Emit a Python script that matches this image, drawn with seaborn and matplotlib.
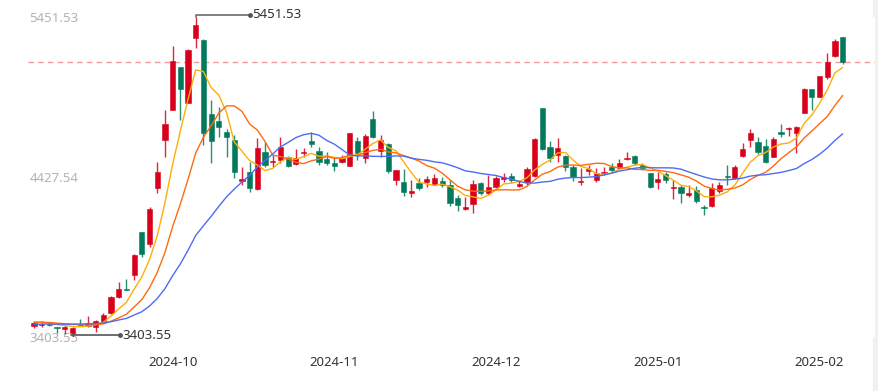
import numpy as np
import pandas as pd
import matplotlib
matplotlib.use("Agg")
import matplotlib.pyplot as plt
from matplotlib.patches import Rectangle
import seaborn as sns

# closes before the first visible candle, only used to seed the moving averages
warmup_close = [3452, 3460, 3471, 3465, 3458, 3470, 3478, 3462, 3474, 3480,
                3490, 3502, 3495, 3504, 3494, 3502, 3496, 3505, 3491]

opens = [
    3472.0, 3480.3, 3482.0, 3461.1, 3454.7, 3429.1, 3482.9, 3472.0, 3467.5, 3499.5,
    3553.3, 3659.5, 3708.8, 3798.4, 4073.6, 3994.9, 4353.3, 4662.4, 4854.4, 5127.7,
    4897.3, 5313.3, 5302.4, 4826.9, 4784.0, 4711.7, 4662.4, 4402.0, 4455.7, 4348.8,
    4587.5, 4521.6, 4534.4, 4553.6, 4508.8, 4577.3, 4657.9, 4592.0, 4538.9, 4517.1,
    4523.5, 4496.0, 4657.9, 4545.3, 4796.8, 4593.9, 4636.8, 4406.4, 4395.5, 4325.1,
    4385.3, 4395.5, 4380.8, 4402.0, 4374.4, 4289.3, 4218.9, 4252.8, 4389.1, 4321.3,
    4363.5, 4414.7, 4433.9, 4368.0, 4395.5, 4432.0, 4865.3, 4619.5, 4566.4, 4560.0,
    4487.7, 4391.7, 4466.0, 4406.4, 4449.3, 4491.5, 4485.1, 4538.9, 4560.0, 4502.4,
    4449.3, 4395.5, 4444.8, 4353.3, 4359.7, 4310.4, 4342.4, 4235.5, 4240.0, 4337.9,
    4432.0, 4417.3, 4560.0, 4662.4, 4651.5, 4624.0, 4555.5, 4715.5, 4730.9, 4709.1,
    4837.1, 4986.9, 4939.5, 5063.7, 5200.0, 5319.7]

closes = [
    3491.2, 3488.0, 3476.0, 3457.3, 3463.7, 3461.1, 3478.4, 3493.1, 3504.0, 3542.4,
    3659.5, 3708.8, 3704.3, 3924.5, 3932.8, 4218.9, 4459.5, 4762.9, 5168.0, 4988.8,
    5238.4, 5398.4, 4709.1, 4656.0, 4747.5, 4679.7, 4459.5, 4410.9, 4353.3, 4609.3,
    4502.4, 4530.0, 4619.5, 4496.0, 4545.3, 4587.5, 4636.8, 4523.5, 4513.3, 4496.0,
    4545.3, 4705.3, 4581.1, 4688.0, 4679.7, 4662.4, 4465.9, 4470.4, 4331.5, 4337.9,
    4353.3, 4410.9, 4421.1, 4374.4, 4257.3, 4246.4, 4235.5, 4380.8, 4321.3, 4363.5,
    4417.3, 4423.7, 4406.4, 4378.9, 4474.9, 4666.9, 4602.9, 4545.3, 4609.3, 4487.7,
    4423.7, 4402.0, 4474.9, 4449.3, 4459.5, 4470.4, 4517.1, 4547.2, 4513.3, 4481.3,
    4363.5, 4410.9, 4406.4, 4363.5, 4321.3, 4321.3, 4272.0, 4225.3, 4353.3, 4374.4,
    4423.7, 4491.5, 4602.9, 4705.3, 4587.5, 4523.5, 4666.9, 4700.8, 4737.3, 4747.5,
    4988.8, 4939.5, 5072.0, 5163.5, 5297.9, 5160.0]

highs = [
    3497.6, 3504.0, 3490.0, 3463.7, 3478.4, 3467.5, 3514.9, 3536.0, 3510.4, 3553.3,
    3664.0, 3755.5, 3770.9, 3930.9, 4073.6, 4235.5, 4523.5, 4854.4, 5264.0, 5127.7,
    5244.8, 5451.53, 5306.9, 4918.4, 4871.7, 4732.8, 4694.4, 4491.5, 4523.5, 4673.3,
    4651.5, 4566.4, 4683.5, 4560.0, 4602.9, 4609.3, 4711.7, 4619.5, 4587.5, 4545.3,
    4566.4, 4705.3, 4683.5, 4700.8, 4849.9, 4694.4, 4645.1, 4470.4, 4474.9, 4406.4,
    4417.3, 4432.0, 4444.8, 4423.7, 4406.4, 4310.4, 4299.5, 4406.4, 4395.5, 4438.4,
    4432.0, 4449.3, 4453.1, 4406.4, 4491.5, 4677.1, 4865.3, 4658.1, 4673.3, 4566.4,
    4502.4, 4483.2, 4502.4, 4481.3, 4491.5, 4513.3, 4538.9, 4587.5, 4566.4, 4513.3,
    4453.1, 4459.5, 4459.5, 4406.4, 4374.4, 4374.4, 4368.0, 4246.4, 4389.1, 4395.5,
    4502.4, 4502.4, 4645.1, 4730.9, 4683.5, 4666.9, 4683.5, 4764.8, 4747.5, 4752.0,
    4993.3, 4986.9, 5072.0, 5221.1, 5306.9, 5323.5]

lows = [
    3459.2, 3467.5, 3470.0, 3427.2, 3420.0, 3403.55, 3476.5, 3467.5, 3435.5, 3493.1,
    3548.8, 3649.3, 3702.4, 3766.4, 3915.5, 3979.5, 4321.3, 4555.5, 4854.4, 4790.4,
    4897.3, 5249.3, 4630.4, 4513.3, 4683.5, 4555.5, 4417.3, 4374.4, 4331.5, 4342.4,
    4491.5, 4491.5, 4513.3, 4487.7, 4502.4, 4555.5, 4615.7, 4502.4, 4502.4, 4465.9,
    4517.1, 4496.0, 4534.4, 4517.1, 4673.3, 4555.5, 4453.1, 4374.4, 4304.0, 4299.5,
    4342.4, 4363.5, 4374.4, 4363.5, 4240.0, 4209.9, 4214.4, 4193.3, 4310.4, 4310.4,
    4353.3, 4395.5, 4395.5, 4359.7, 4374.4, 4423.7, 4598.4, 4523.5, 4523.5, 4465.9,
    4402.0, 4374.4, 4438.4, 4395.5, 4438.4, 4459.5, 4481.3, 4534.4, 4502.4, 4470.4,
    4353.3, 4346.9, 4389.1, 4282.9, 4261.1, 4299.5, 4261.1, 4182.4, 4235.5, 4325.1,
    4374.4, 4410.9, 4555.5, 4619.5, 4572.8, 4513.3, 4551.7, 4679.7, 4688.0, 4581.1,
    4833.3, 4854.4, 4935.7, 5050.9, 5195.5, 5146.9]

tick_labels = ["2024-10", "2024-11", "2024-12", "2025-01", "2025-02"]
tick_index = [18, 39, 60, 81, 102]

ma_windows = [5, 10, 20]
ma_colors = ["#ffad0a", "#ff6a10", "#4d6cf5"]
UP = "#d9001b"
DOWN = "#047a5c"

sns.set_style("white")
plt.rcParams["font.family"] = ["Noto Sans", "DejaVu Sans"]

df = pd.DataFrame({"open": opens, "high": highs, "low": lows, "close": closes})
df["idx"] = np.arange(len(df))
n = len(df)

# moving averages, seeded with the warm-up closes
full_close = pd.Series(warmup_close + closes)
ma_frames = []
for w in ma_windows:
    ma = full_close.rolling(w).mean().iloc[len(warmup_close):].to_numpy()
    ma_frames.append(pd.DataFrame({"idx": df["idx"], "value": ma, "ma": f"MA{w}"}))
ma_long = pd.concat(ma_frames, ignore_index=True)

fig = plt.figure(figsize=(8.79, 3.91), dpi=100)
ax = fig.add_axes([28 / 879, (391 - 336.7) / 391, (875 - 28) / 879, 320 / 391])

up = df["close"] >= df["open"]
colors = np.where(up, UP, DOWN)

ax.vlines(df["idx"], df["low"], df["high"], colors=colors, linewidth=1.0, alpha=0.85, zorder=2)
body_bottom = np.minimum(df["open"], df["close"])
body_height = np.maximum(np.abs(df["close"] - df["open"]), 7)
ax.bar(df["idx"], body_height, bottom=body_bottom, width=0.68, color=colors,
       edgecolor=colors, linewidth=0.4, zorder=3)

sns.lineplot(data=ma_long, x="idx", y="value", hue="ma", palette=ma_colors,
             linewidth=1.0, legend=False, ax=ax, zorder=4)

# last close reference line
ax.axhline(closes[-1], color="#f29a9a", linewidth=1, linestyle=(0, (4, 3)), zorder=1)

ymin, ymax = min(lows), max(highs)
ax.set_ylim(ymin, ymax)
ax.set_xlim(-0.78, n - 1 + 4.2)

# max / min markers
hi_i = int(np.argmax(highs))
lo_i = int(np.argmin(lows))
span = ymax - ymin
hy = ymax + span * 0.0055
ax.plot([hi_i, hi_i, hi_i + 7.0], [ymax, hy, hy], color="#6b6b6b", lw=1.2,
        clip_on=False, zorder=5)
ax.plot([hi_i + 7.0], [hy], "o", color="#555555", ms=2.5, clip_on=False, zorder=5)
ax.text(hi_i + 7.35, hy, f"{ymax:.2f}", color="#333333", fontsize=9.5,
        va="center", ha="left", clip_on=False)
ly = ymin + span * 0.005
ax.plot([lo_i - 0.2, lo_i + 6.2], [ly, ly], color="#555555", lw=1.2, clip_on=False, zorder=5)
ax.plot([lo_i + 6.2], [ly], "o", color="#555555", ms=2.5, clip_on=False, zorder=5)
ax.text(lo_i + 6.5, ly, f"{ymin:.2f}", color="#333333", fontsize=9.5,
        va="center", ha="left", clip_on=False)

# axes styling
yt = [ymin, (ymin + ymax) / 2, ymax]
ax.set_yticks(yt)
ax.set_yticklabels([f"{v:.2f}" for v in yt], color="#b3b3b3", fontsize=9.5)
for lab in ax.get_yticklabels():
    lab.set_horizontalalignment("left")
ax.tick_params(axis="y", length=0, pad=-1)
ax.set_xticks(tick_index)
ax.set_xticklabels(tick_labels, color="#333333", fontsize=9.5)
ax.tick_params(axis="x", length=0, pad=14)
ax.set_xlabel("")
ax.set_ylabel("")
for s in ax.spines.values():
    s.set_visible(False)
ax.grid(False)

fig.add_artist(Rectangle((873 / 879, 0), 6 / 879, 1, transform=fig.transFigure,
                         color="#f1f1f1", zorder=0))

fig.savefig("out.png", dpi=100)
